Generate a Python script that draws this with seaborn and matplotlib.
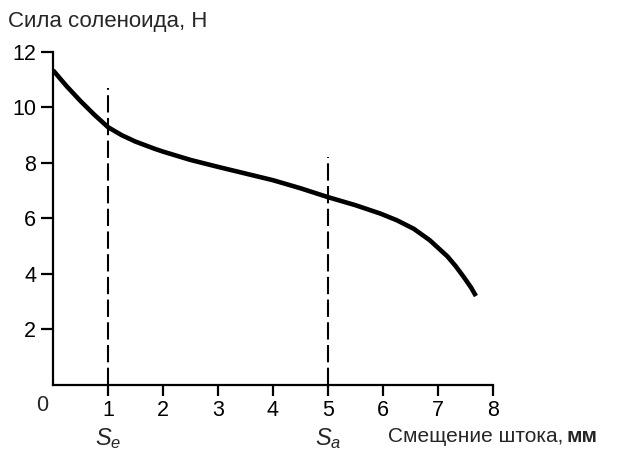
import matplotlib
matplotlib.use("Agg")
import matplotlib.pyplot as plt
import seaborn as sns
import pandas as pd

sns.set_style("white")
plt.rcParams['font.family'] = ['Liberation Sans', 'DejaVu Sans']
plt.rcParams['mathtext.fontset'] = 'custom'
plt.rcParams['mathtext.it'] = 'Liberation Sans:italic'
plt.rcParams['mathtext.rm'] = 'Liberation Sans'

# data
displacement = [0.0, 0.25, 0.5, 0.75, 1.0, 1.25, 1.5, 1.85, 2.0, 2.5, 3.0, 3.5, 4.0, 4.5, 5.0,
                5.5, 5.95, 6.25, 6.56, 6.85, 7.17, 7.32, 7.47, 7.6, 7.69]
force = [11.33, 10.75, 10.22, 9.73, 9.28, 8.99, 8.76, 8.5, 8.4, 8.1, 7.85, 7.61, 7.37, 7.08, 6.76,
         6.47, 6.17, 5.93, 5.62, 5.21, 4.63, 4.28, 3.88, 3.51, 3.2]
marker_x = [1, 5]
marker_top = [10.68, 8.2]
marker_labels = ["$S_e$", "$S_a$"]
x_ticks = [1, 2, 3, 4, 5, 6, 7, 8]
y_ticks = [2, 4, 6, 8, 10, 12]

df = pd.DataFrame({"x": displacement, "y": force})

fig = plt.figure(figsize=(6.22, 4.55), dpi=100)
ax = fig.add_axes([0.0852, 0.154, 0.7074, 0.7326])

sns.lineplot(data=df, x="x", y="y", ax=ax, color="black", linewidth=3.3, sort=False)
for ln in ax.lines:
    ln.set_solid_joinstyle("round")
    ln.set_solid_capstyle("butt")
ax.vlines(marker_x, 0, marker_top, colors="black", linestyles=(0, (8.3, 2.6)), linewidth=1.5)

ax.set_xlim(0, 8)
ax.set_ylim(0, 12)
ax.set_xticks(x_ticks)
ax.set_yticks(y_ticks)
ax.set_xticklabels([str(t) for t in x_ticks])
ax.set_yticklabels([str(t) for t in y_ticks])
ax.tick_params(axis="x", bottom=True, direction="out", length=8, width=1.6, pad=3, labelsize=15.5, colors="black")
ax.tick_params(axis="y", left=True, direction="out", length=9, width=1.6, pad=3, labelsize=15.5, colors="black")
ax.set_xlabel("")
ax.set_ylabel("")
for s in ["top", "right"]:
    ax.spines[s].set_visible(False)
for s in ["left", "bottom"]:
    ax.spines[s].set_linewidth(1.6)
    ax.spines[s].set_color("black")

ax.text(-0.08, -0.35, "0", ha="right", va="top", fontsize=15.5)
for mx, lab in zip(marker_x, marker_labels):
    ax.text(mx, -1.5, lab, ha="center", va="top", fontsize=17)

fig.text(8 / 622, 1 - 22 / 455, "Сила соленоида, Н", ha="left", va="center", fontsize=16)
fig.text(388 / 622, 1 - 437 / 455, "Смещение штока,", ha="left", va="center", fontsize=15)
fig.text(567 / 622, 1 - 437 / 455, "мм", ha="left", va="center", fontsize=15, fontweight="bold")

fig.savefig("out.png", dpi=100)
